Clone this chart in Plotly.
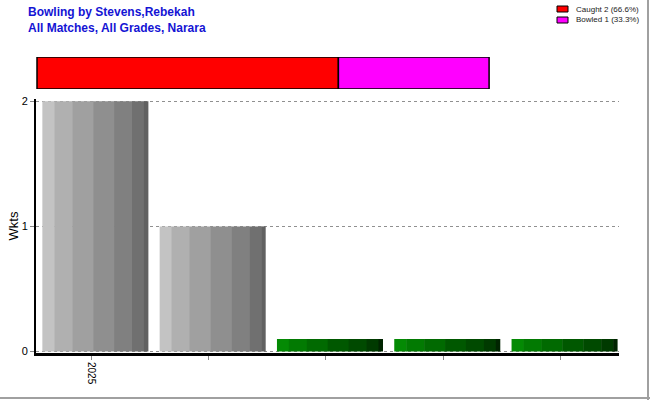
import plotly.graph_objects as go

# bowling wickets per season slot
seasons = ["2025", "", "", "", ""]
wickets = [2, 1, 0.1, 0.1, 0.1]
bar_group = ["grey", "grey", "green", "green", "green"]

# dismissal breakdown (top strip)
dismissals = ["Caught", "Bowled"]
dismissal_counts = [2, 1]
dismissal_pct = [66.6, 33.3]
dismissal_colors = ["#ff0000", "#ff00ff"]

FONT = "Liberation Sans, Arial, sans-serif"

# vertical shading stripes used to fake the gradient on each bar
STRIPE_EDGES = [0.0, 0.113, 0.283, 0.481, 0.679, 0.849, 0.962, 1.0]
SHADES = {
    "grey": ["#c3c3c3", "#b0b0b0", "#a0a0a0", "#8f8f8f", "#808080", "#707070", "#616161"],
    "green": ["#048a04", "#027a02", "#016a01", "#005800", "#004a00", "#003a00", "#002400"],
}
BAR_W = 0.9
BAR_SHIFT = 0.034   # bars sit a touch right of their ticks

plot_l, plot_r, plot_t, plot_b = 36, 31, 50, 47
W, H = 650, 400
pw = W - plot_l - plot_r
ph = H - plot_t - plot_b
slot = 117.3   # px per category
unit = 150.7   # px per dismissal

fig = go.Figure()
xs = list(range(len(wickets)))
for i in range(len(STRIPE_EDGES) - 1):
    lo, hi = STRIPE_EDGES[i], STRIPE_EDGES[i + 1]
    fig.add_trace(go.Bar(
        x=xs, y=wickets,
        width=(hi - lo) * BAR_W + 0.004,
        offset=-BAR_W / 2 + BAR_SHIFT + lo * BAR_W,
        marker=dict(color=[SHADES[g][i] for g in bar_group], line=dict(width=0)),
        showlegend=False, hoverinfo="skip",
    ))

# stacked horizontal dismissal strip on its own axes
base = 0
for name, n, col in zip(dismissals, dismissal_counts, dismissal_colors):
    fig.add_trace(go.Bar(
        x=[n], y=[0], base=[base], orientation="h", xaxis="x2", yaxis="y2",
        width=1, name=name, showlegend=False, hoverinfo="skip",
        marker=dict(color=col, line=dict(color="#000000", width=1.5)),
    ))
    base += n


def px_x(x):
    return (x - plot_l) / pw


def px_y(y):
    return (H - plot_b - y) / ph


# hand-drawn legend, top right
shapes = []
annotations = [dict(
    text="<b>Bowling by Stevens,Rebekah<br>All Matches, All Grades, Narara</b>",
    xref="paper", yref="paper", x=px_x(26), y=px_y(3),
    xanchor="left", yanchor="top", align="left", showarrow=False,
    font=dict(family=FONT, size=12, color="#1414d4"),
)]
for k, (name, n, p, col) in enumerate(zip(dismissals, dismissal_counts,
                                           dismissal_pct, dismissal_colors)):
    yc = 9 + 11 * k
    shapes.append(dict(type="rect", xref="paper", yref="paper",
                       x0=px_x(557), x1=px_x(568), y0=px_y(yc - 3), y1=px_y(yc + 3),
                       fillcolor=col, line=dict(color="#000000", width=1)))
    annotations.append(dict(
        text=f"{name} {n} ({p:.1f}%)", xref="paper", yref="paper",
        x=px_x(574), y=px_y(yc), xanchor="left", yanchor="middle",
        showarrow=False, font=dict(family=FONT, size=8, color="#222222"),
    ))

# frame edges on right and bottom
shapes += [
    dict(type="line", xref="paper", yref="paper",
         x0=px_x(W - 2), x1=px_x(W - 2), y0=px_y(H), y1=px_y(0),
         line=dict(color="#a0a0a0", width=2)),
    dict(type="line", xref="paper", yref="paper",
         x0=px_x(0), x1=px_x(W), y0=px_y(H - 2), y1=px_y(H - 2),
         line=dict(color="#a0a0a0", width=2)),
]

x_lo = 4.5 - pw / slot

fig.update_layout(
    width=W, height=H,
    margin=dict(l=plot_l, r=plot_r, t=plot_t, b=plot_b, autoexpand=False),
    paper_bgcolor="white", plot_bgcolor="white",
    barmode="overlay", showlegend=False,
    font=dict(family=FONT, size=11, color="#000000"),
    xaxis=dict(
        range=[x_lo, 4.5], tickvals=xs, ticktext=seasons, tickangle=90,
        showgrid=False, zeroline=False,
        showline=True, linecolor="#000000", linewidth=3,
        ticks="outside", ticklen=4, tickcolor="#888888",
        tickfont=dict(size=10),
    ),
    yaxis=dict(
        domain=[0, px_y(99)],
        range=[-0.012, 2.018], tickvals=[0, 1, 2],
        title=dict(text="Wkts", standoff=0),
        showgrid=True, gridcolor="#909090", griddash="3px,3px", gridwidth=1,
        zeroline=False, showline=True, linecolor="#000000", linewidth=2,
        ticks="outside", ticklen=4, tickcolor="#888888",
    ),
    xaxis2=dict(
        anchor="y2", domain=[0, 1],
        range=[-1 / unit, (pw - 1) / unit],
        visible=False,
    ),
    yaxis2=dict(
        anchor="x2", domain=[px_y(89), px_y(57)],
        range=[-0.5, 0.5], visible=False,
    ),
    shapes=shapes,
    annotations=annotations,
)

fig.write_html("out.html", config={"displayModeBar": False},
               post_script="document.body.style.margin='0';")
